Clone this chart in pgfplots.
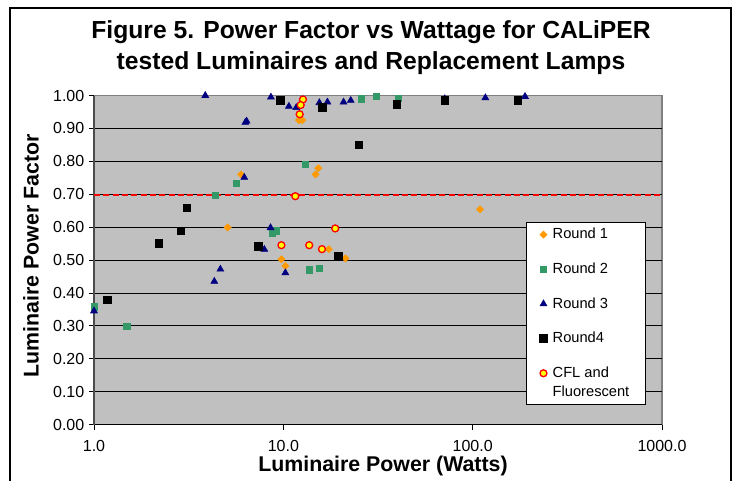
\documentclass[border=0pt]{standalone}
\usepackage{fontspec}
\setmainfont{Liberation Sans}
\usepackage{pgfplots}
\pgfplotsset{compat=1.18}
\definecolor{plotgray}{HTML}{C0C0C0}
\definecolor{borderg}{HTML}{808080}
\definecolor{r1}{HTML}{FF9900}
\definecolor{r2}{HTML}{339966}
\definecolor{r3}{HTML}{000080}
\definecolor{cflred}{HTML}{FF0000}
\definecolor{cflyel}{HTML}{FFFF00}
\begin{document}
\begin{tikzpicture}[x=0.75pt,y=0.75pt]
\useasboundingbox (0,0) rectangle (739,480);
\fill[white] (0,0) rectangle (739,480);
\draw[black, line width=0.9pt] (10,-5) -- (10,472) -- (731,472) -- (731,-5);
\node[anchor=base, font=\fontsize{18.5}{22}\selectfont\bfseries] at (371,442) {Figure 5. Power Factor vs Wattage for CALiPER};
\node[anchor=base, font=\fontsize{18.5}{22}\selectfont\bfseries] at (371,411) {tested Luminaires and Replacement Lamps};
\node[rotate=90, font=\fontsize{16}{18}\selectfont\bfseries] at (31,224) {Luminaire Power Factor};
\node[font=\fontsize{16}{18}\selectfont\bfseries] at (383,14) {Luminaire Power (Watts)};
\begin{axis}[
  at={(70.5pt,41.625pt)}, anchor=south west,
  width=426pt, height=246.75pt, scale only axis,
  xmode=log, log basis x=10,
  xmin=1, xmax=1000, ymin=0, ymax=1,
  clip=false,
  axis x line*=bottom, axis y line*=left,
  axis line style={-},
  x axis line style={black, line width=0.8pt},
  y axis line style={black!70, line width=1.2pt},
  axis background/.style={fill=plotgray, draw=borderg, line width=1.2pt},
  xtick={1,10,100,1000}, xticklabels={1.0,10.0,100.0,1000.0},
  xminorticks=false,
  xticklabel style={yshift=-4.5pt},
  ytick={0,0.1,0.2,0.3,0.4,0.5,0.6,0.7,0.8,0.9},
  extra y ticks={1},
  extra y tick style={grid=none},
  ymajorgrids,
  major grid style={black, line width=0.6pt},
  tick align=outside,
  major tick length=3.75pt,
  tick style={black, line width=0.6pt},
  /pgf/number format/assume math mode=true,
  yticklabel style={/pgf/number format/.cd, fixed, fixed zerofill, precision=2},
  tick label style={font=\fontsize{12}{14}\selectfont},
  legend cell align=left,
  legend image code/.code={\draw[mark repeat=2,mark phase=2,#1] plot coordinates {(0cm,0cm) (0.15cm,0cm) (0.3cm,0cm)};},
  legend style={at={(0.7606,0.6155)}, anchor=north west, draw=black, fill=white,
    font=\fontsize{11}{14.25}\selectfont, row sep=12.5pt,
    inner xsep=10pt, inner ysep=2.5pt, cells={align=left},
    /tikz/every odd column/.append style={column sep=2pt}},
]
\addplot[forget plot, draw=cflred, line width=1.5pt, dash pattern=on 4.5pt off 2.5pt] coordinates {(1,0.698) (1000,0.698)};
% Round 1
\addplot[only marks, mark=square*, mark size=1.9pt, mark options={rotate=45, fill=r1, draw=r1}] coordinates {
(5.98,0.760) (5.08,0.599) (12.1,0.925) (12.6,0.925) (14.8,0.760) (15.3,0.779)
(17.4,0.533) (9.77,0.502) (10.25,0.482) (21.3,0.505) (109.4,0.654)
};
\addlegendentry{Round 1}
% Round 2
\addplot[only marks, mark=square*, mark size=2.4pt, mark options={fill=r2, draw=r2}] coordinates {
(1.0,0.358) (1.49,0.298) (4.37,0.697) (5.65,0.733) (8.77,0.583) (9.13,0.589)
(13.1,0.791) (13.7,0.470) (15.5,0.475) (25.8,0.990) (31.0,0.998) (40.5,0.991)
};
\addlegendentry{Round 2}
% Round 3
\addplot[only marks, mark=triangle*, mark size=3pt, mark options={fill=r3, draw=r3}] coordinates {
(1.0,0.345) (3.87,1.00) (4.32,0.435) (4.65,0.472) (6.3,0.918) (6.4,0.922)
(6.22,0.751) (8.6,0.995) (8.56,0.598) (7.94,0.532) (10.25,0.461) (10.7,0.967)
(11.7,0.963) (15.5,0.978) (17.1,0.980) (20.8,0.980) (22.7,0.985) (71.2,0.99)
(116.7,0.993) (189,0.997)
};
\addlegendentry{Round 3}
% Round 4
\addplot[only marks, mark=square*, mark size=2.9pt, mark options={fill=black, draw=black}] coordinates {
(1.17,0.379) (2.20,0.550) (2.87,0.589) (3.09,0.659) (7.4,0.541) (9.6,0.986)
(16.1,0.965) (19.5,0.513) (25.0,0.850) (39.7,0.974) (71.2,0.986) (173,0.986)
};
\addlegendentry{Round4}
% CFL and Fluorescent
\addplot[only marks, mark=*, mark size=2.6pt, mark options={fill=cflyel, draw=cflred, line width=1pt},
  legend image post style={yshift=7pt}] coordinates {
(12.7,0.988) (12.35,0.971) (12.2,0.943) (11.57,0.694) (9.77,0.545) (13.7,0.545)
(16.0,0.533) (18.8,0.596)
};
\addlegendentry{CFL and\\Fluorescent}
\end{axis}
\end{tikzpicture}
\end{document}
